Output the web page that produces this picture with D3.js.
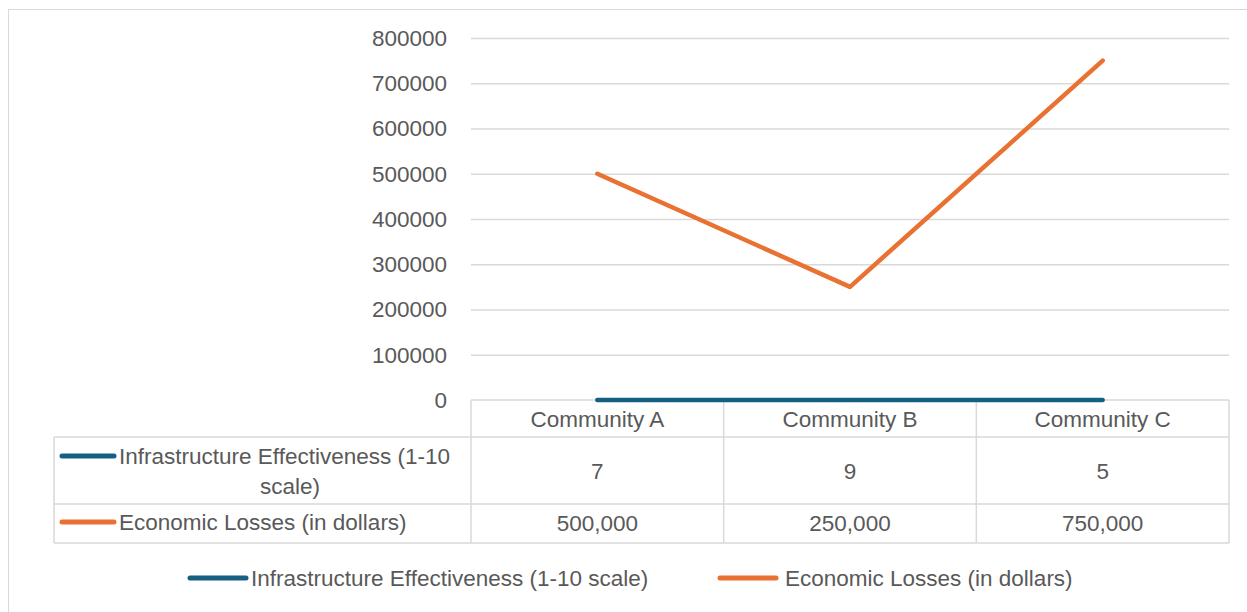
<!DOCTYPE html>
<html><head><meta charset="utf-8">
<script src="https://cdn.jsdelivr.net/npm/d3@7"></script>
<style>body{margin:0;background:#fff}svg{display:block}text{font-family:"Liberation Sans",Arial,sans-serif;fill:#595959}</style>
</head><body><svg id="c" width="1247" height="612"></svg>
<script>
const categories = ["Community A","Community B","Community C"];
const seriesNames = ["Infrastructure Effectiveness (1-10 scale)","Economic Losses (in dollars)"];
const infrastructure = [7,9,5];
const losses = [500000,250000,750000];
const yTicks = [0,100000,200000,300000,400000,500000,600000,700000,800000];
const colors = ["#156082","#E97132"];

const svg = d3.select("#c");
const fs = 22.5;
svg.append("rect").attr("x",8.5).attr("y",9.5).attr("width",1250).attr("height",620).attr("fill","#fff").attr("stroke","#d9d9d9");

const x0=471,x1=1229;
const x = d3.scaleBand().domain(categories).range([x0,x1]);
const y = d3.scaleLinear().domain([0,800000]).range([400,38]);

svg.append("g").selectAll("line").data(yTicks.filter(d=>d>0)).join("line")
  .attr("x1",x0).attr("x2",x1).attr("y1",d=>y(d)+0.5).attr("y2",d=>y(d)+0.5)
  .attr("stroke","#d9d9d9").attr("stroke-width",1.3);
svg.append("g").selectAll("text").data(yTicks).join("text")
  .attr("x",447).attr("y",d=>y(d)).attr("dy","0.35em").attr("text-anchor","end")
  .attr("font-size",fs).text(d=>d);

const rowY=[400,437,504,543];
const tbl = svg.append("g").attr("stroke","#d9d9d9").attr("stroke-width",1.5).attr("fill","none");
tbl.append("line").attr("x1",x0).attr("x2",x1).attr("y1",rowY[0]).attr("y2",rowY[0]);
[1,2,3].forEach(i=>tbl.append("line").attr("x1",54).attr("x2",x1).attr("y1",rowY[i]).attr("y2",rowY[i]));
tbl.append("line").attr("x1",54).attr("x2",54).attr("y1",rowY[1]).attr("y2",rowY[3]);
[x0, ...categories.map(c=>x(c)+x.bandwidth())].forEach(v=>tbl.append("line").attr("x1",v).attr("x2",v).attr("y1",rowY[0]).attr("y2",rowY[3]));

svg.append("g").selectAll("text").data(categories).join("text")
  .attr("x",d=>x(d)+x.bandwidth()/2).attr("y",419).attr("dy","0.35em").attr("text-anchor","middle")
  .attr("font-size",fs).text(d=>d);
svg.append("g").selectAll("text").data(infrastructure).join("text")
  .attr("x",(d,i)=>x(categories[i])+x.bandwidth()/2).attr("y",471).attr("dy","0.35em").attr("text-anchor","middle")
  .attr("font-size",fs).text(d=>d);
svg.append("g").selectAll("text").data(losses).join("text")
  .attr("x",(d,i)=>x(categories[i])+x.bandwidth()/2).attr("y",523).attr("dy","0.35em").attr("text-anchor","middle")
  .attr("font-size",fs).text(d=>d3.format(",")(d));

function key(g,xa,xb,yy,c){g.append("line").attr("x1",xa).attr("x2",xb).attr("y1",yy).attr("y2",yy).attr("stroke",c).attr("stroke-width",5).attr("stroke-linecap","round");}
const rl = svg.append("g");
key(rl,62,114,456,colors[0]);
rl.append("text").attr("x",119).attr("y",456).attr("dy","0.35em").attr("font-size",fs).text("Infrastructure Effectiveness (1-10");
rl.append("text").attr("x",290).attr("y",486).attr("dy","0.35em").attr("text-anchor","middle").attr("font-size",fs).text("scale)");
key(rl,62,114,522,colors[1]);
rl.append("text").attr("x",119).attr("y",522).attr("dy","0.35em").attr("font-size",fs).text(seriesNames[1]);

const cx = c=>x(c)+x.bandwidth()/2;
const line = d3.line().x((d,i)=>cx(categories[i])).y(d=>y(d));
svg.append("path").datum(infrastructure).attr("d",line).attr("fill","none").attr("stroke",colors[0]).attr("stroke-width",4.5).attr("stroke-linecap","round").attr("stroke-linejoin","round");
svg.append("path").datum(losses).attr("d",line).attr("fill","none").attr("stroke",colors[1]).attr("stroke-width",4.5).attr("stroke-linecap","round").attr("stroke-linejoin","round");

const lg = svg.append("g");
key(lg,190,246,578,colors[0]);
lg.append("text").attr("x",251).attr("y",578).attr("dy","0.35em").attr("font-size",fs).text(seriesNames[0]);
key(lg,720,776,578,colors[1]);
lg.append("text").attr("x",785).attr("y",578).attr("dy","0.35em").attr("font-size",fs).text(seriesNames[1]);
</script></body></html>
